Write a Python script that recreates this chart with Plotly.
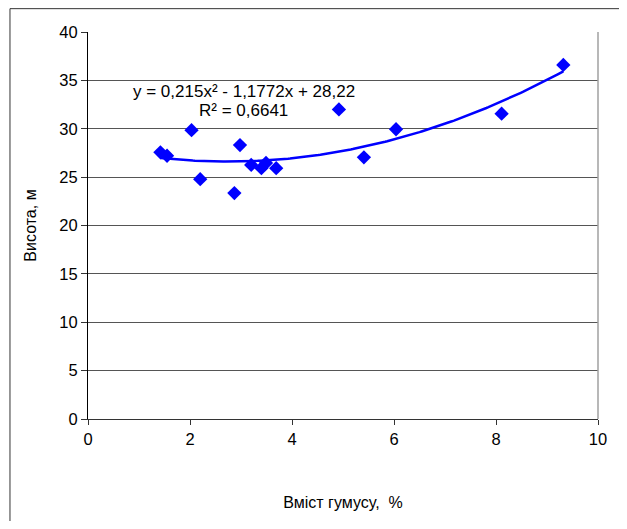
import numpy as np
import plotly.graph_objects as go

humus = [1.42, 1.55, 2.03, 2.20, 2.87, 2.98, 3.20, 3.40, 3.49, 3.69, 4.92, 5.41, 6.04, 8.11, 9.32]
height = [27.56, 27.21, 29.85, 24.79, 23.35, 28.31, 26.26, 25.92, 26.46, 25.92, 32.0, 27.05, 29.95, 31.56, 36.6]
coef = [0.215, -1.1772, 28.22]
x_ticks = [0, 2, 4, 6, 8, 10]
y_ticks = [0, 5, 10, 15, 20, 25, 30, 35, 40]

xs = np.linspace(min(humus), max(humus), 200)
ys = np.polyval(coef, xs)

FAM = "Liberation Sans, Arial, sans-serif"

fig = go.Figure()
fig.add_trace(go.Scatter(x=xs, y=ys, mode="lines",
                         line=dict(color="#0000FF", width=2.5), hoverinfo="skip"))
fig.add_trace(go.Scatter(x=humus, y=height, mode="markers",
                         marker=dict(symbol="diamond", size=11, color="#0000FF",
                                     line=dict(width=0))))

title_font = dict(family=FAM, size=16, color="#000000")
tick_font = dict(family=FAM, size=16.5, color="#000000")

fig.update_layout(
    width=611, height=513,
    margin=dict(l=80, r=12, t=24, b=99),
    paper_bgcolor="white", plot_bgcolor="white",
    showlegend=False,
    font=dict(family=FAM, color="#000000"),
    xaxis=dict(range=[0, 10], tickvals=x_ticks, showgrid=False, zeroline=False,
               showline=True, linecolor="#333333", linewidth=1,
               ticks="outside", ticklen=5, tickcolor="#333333",
               title=dict(text="Вміст гумусу,  %", standoff=50, font=title_font),
               tickfont=tick_font),
    yaxis=dict(range=[0, 40], tickvals=y_ticks, showgrid=True, gridcolor="#555555",
               gridwidth=1, zeroline=False,
               showline=True, linecolor="#000000", linewidth=1,
               ticks="outside", ticklen=6, tickcolor="#333333",
               title=dict(text="Висота, м", standoff=18, font=title_font),
               tickfont=tick_font),
    shapes=[
        dict(type="line", xref="paper", yref="paper", x0=1, x1=1, y0=0, y1=1,
             line=dict(color="#A0A0A0", width=1.5)),
        dict(type="rect", xref="paper", yref="paper", x0=-0.153, x1=1.1,
             y0=-0.4, y1=1.0603, line=dict(color="#333333", width=1)),
    ],
    annotations=[
        dict(x=3.05, y=33.9, xref="x", yref="y", text="y = 0,215x² - 1,1772x + 28,22",
             showarrow=False, font=dict(family=FAM, size=17, color="#000000")),
        dict(x=3.05, y=31.9, xref="x", yref="y", text="R² = 0,6641",
             showarrow=False, font=dict(family=FAM, size=17, color="#000000")),
    ],
)

fig.write_html("out.html")
